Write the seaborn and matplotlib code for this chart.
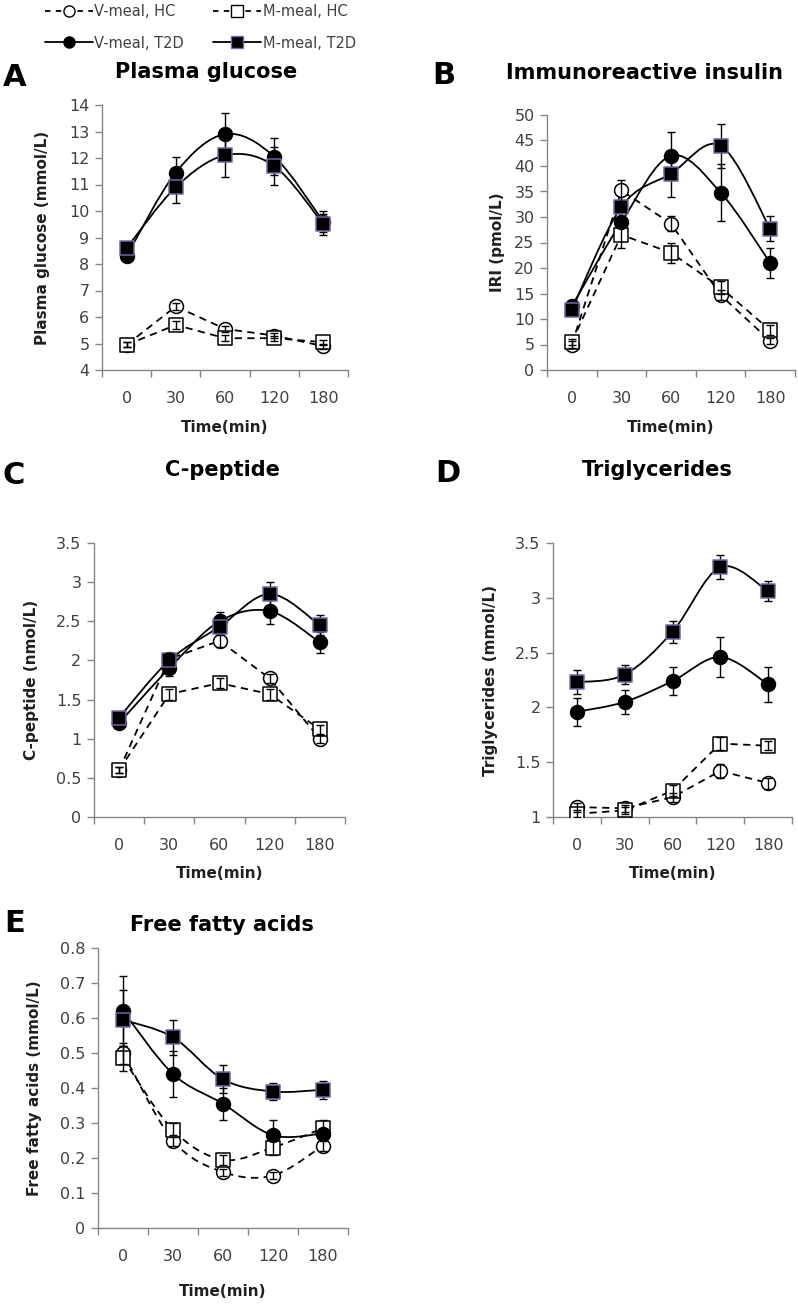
import numpy as np
import matplotlib
matplotlib.use("Agg")
import matplotlib.pyplot as plt
import seaborn as sns
from matplotlib.path import Path
from matplotlib.patches import PathPatch
from matplotlib.lines import Line2D

# ---------------- data ----------------
times = ["0", "30", "60", "120", "180"]
series_labels = ["V-meal, HC", "M-meal, HC", "V-meal, T2D", "M-meal, T2D"]

# A: plasma glucose (mmol/L)
glu_v_hc = [4.95, 6.4, 5.55, 5.3, 4.9]
glu_m_hc = [4.95, 5.7, 5.2, 5.2, 5.05]
glu_v_t2d = [8.3, 11.45, 12.9, 12.05, 9.6]
glu_m_t2d = [8.6, 10.9, 12.1, 11.7, 9.5]
glu_v_hc_err = [0.1, 0.12, 0.12, 0.1, 0.1]
glu_m_hc_err = [0.1, 0.15, 0.12, 0.1, 0.1]
glu_v_t2d_err = [0.2, 0.6, 0.8, 0.7, 0.4]
glu_m_t2d_err = [0.2, 0.6, 0.8, 0.7, 0.4]

# B: immunoreactive insulin (pmol/L)
iri_v_hc = [5.0, 35.2, 28.7, 14.7, 5.7]
iri_m_hc = [5.5, 26.5, 23.0, 16.2, 7.8]
iri_v_t2d = [12.5, 29.0, 42.0, 34.8, 21.0]
iri_m_t2d = [11.8, 32.0, 38.5, 44.0, 27.7]
iri_v_hc_err = [0.6, 2.0, 1.5, 1.0, 0.6]
iri_m_hc_err = [0.6, 2.5, 2.0, 1.2, 1.0]
iri_v_t2d_err = [1.2, 2.5, 4.7, 5.5, 3.0]
iri_m_t2d_err = [1.2, 3.0, 4.5, 4.3, 2.5]

# C: C-peptide (nmol/L)
cp_v_hc = [0.6, 2.02, 2.25, 1.77, 1.0]
cp_m_hc = [0.6, 1.57, 1.71, 1.57, 1.12]
cp_v_t2d = [1.2, 1.9, 2.5, 2.63, 2.23]
cp_m_t2d = [1.27, 2.0, 2.43, 2.85, 2.45]
cp_v_hc_err = [0.04, 0.08, 0.08, 0.06, 0.05]
cp_m_hc_err = [0.04, 0.07, 0.06, 0.07, 0.06]
cp_v_t2d_err = [0.05, 0.1, 0.12, 0.17, 0.13]
cp_m_t2d_err = [0.05, 0.1, 0.15, 0.15, 0.13]

# D: triglycerides (mmol/L)
tg_v_hc = [1.09, 1.08, 1.18, 1.42, 1.31]
tg_m_hc = [1.03, 1.06, 1.24, 1.67, 1.65]
tg_v_t2d = [1.96, 2.05, 2.24, 2.46, 2.21]
tg_m_t2d = [2.23, 2.30, 2.69, 3.28, 3.06]
tg_v_hc_err = [0.04, 0.03, 0.04, 0.06, 0.05]
tg_m_hc_err = [0.03, 0.03, 0.05, 0.06, 0.04]
tg_v_t2d_err = [0.13, 0.11, 0.13, 0.18, 0.16]
tg_m_t2d_err = [0.11, 0.09, 0.10, 0.11, 0.09]

# E: free fatty acids (mmol/L)
ffa_v_hc = [0.50, 0.25, 0.16, 0.15, 0.235]
ffa_m_hc = [0.485, 0.28, 0.195, 0.23, 0.285]
ffa_v_t2d = [0.62, 0.44, 0.355, 0.265, 0.27]
ffa_m_t2d = [0.595, 0.545, 0.425, 0.39, 0.395]
ffa_v_hc_err = [0.03, 0.015, 0.01, 0.01, 0.015]
ffa_m_hc_err = [0.035, 0.02, 0.015, 0.02, 0.025]
ffa_v_t2d_err = [0.1, 0.065, 0.045, 0.045, 0.03]
ffa_m_t2d_err = [0.085, 0.05, 0.04, 0.025, 0.025]

panels = [
    dict(letter="A", title="Plasma glucose", ylabel="Plasma glucose (mmol/L)",
         yticks=[4, 5, 6, 7, 8, 9, 10, 11, 12, 13, 14],
         series=[glu_v_hc, glu_m_hc, glu_v_t2d, glu_m_t2d],
         errs=[glu_v_hc_err, glu_m_hc_err, glu_v_t2d_err, glu_m_t2d_err],
         box=(102, 348, 105, 370), smooth_hc=False,
         letter_xy=(3, 77), title_xy=(206, 72), ylab_x=43, xt_off=28, xl_off=57),
    dict(letter="B", title="Immunoreactive insulin", ylabel="IRI (pmol/L)",
         yticks=[0, 5, 10, 15, 20, 25, 30, 35, 40, 45, 50],
         series=[iri_v_hc, iri_m_hc, iri_v_t2d, iri_m_t2d],
         errs=[iri_v_hc_err, iri_m_hc_err, iri_v_t2d_err, iri_m_t2d_err],
         box=(547, 795, 115, 370), smooth_hc=False,
         letter_xy=(432, 75), title_xy=(645, 73), ylab_x=497, xt_off=28, xl_off=57),
    dict(letter="C", title="C-peptide", ylabel="C-peptide (nmol/L)",
         yticks=[0, 0.5, 1, 1.5, 2, 2.5, 3, 3.5],
         series=[cp_v_hc, cp_m_hc, cp_v_t2d, cp_m_t2d],
         errs=[cp_v_hc_err, cp_m_hc_err, cp_v_t2d_err, cp_m_t2d_err],
         box=(94, 345, 543, 817), smooth_hc=False,
         letter_xy=(3, 475), title_xy=(222, 470), ylab_x=32, xt_off=28, xl_off=56),
    dict(letter="D", title="Triglycerides", ylabel="Triglycerides (mmol/L)",
         yticks=[1, 1.5, 2, 2.5, 3, 3.5],
         series=[tg_v_hc, tg_m_hc, tg_v_t2d, tg_m_t2d],
         errs=[tg_v_hc_err, tg_m_hc_err, tg_v_t2d_err, tg_m_t2d_err],
         box=(553, 792, 543, 817), smooth_hc=False,
         letter_xy=(435, 473), title_xy=(657, 470), ylab_x=490, xt_off=28, xl_off=56),
    dict(letter="E", title="Free fatty acids", ylabel="Free fatty acids (mmol/L)",
         yticks=[0, 0.1, 0.2, 0.3, 0.4, 0.5, 0.6, 0.7, 0.8],
         series=[ffa_v_hc, ffa_m_hc, ffa_v_t2d, ffa_m_t2d],
         errs=[ffa_v_hc_err, ffa_m_hc_err, ffa_v_t2d_err, ffa_m_t2d_err],
         box=(98, 348, 948, 1228), smooth_hc=True,
         letter_xy=(4, 923), title_xy=(222, 925), ylab_x=35, xt_off=29, xl_off=64),
]

# ---------------- style ----------------
sns.set_style("white")
plt.rcParams["font.family"] = ["DejaVu Sans"]

W, H = 798, 1306
fig = plt.figure(figsize=(W / 100, H / 100), dpi=100)

AXIS_GRAY = "#868686"
TEXT_GRAY = "#404040"
SQ_EDGE = "#7A63A8"

styles = [
    dict(marker="o", face="white", edge="black", ls=(0, (4, 3)), t2d=False),
    dict(marker="s", face="white", edge="black", ls=(0, (4, 3)), t2d=False),
    dict(marker="o", face="black", edge="black", ls="-", t2d=True),
    dict(marker="s", face="black", edge=SQ_EDGE, ls="-", t2d=True),
]


def smooth_path(x, y):
    pts = np.column_stack([x, y]).astype(float)
    n = len(pts)
    verts = [pts[0]]
    codes = [Path.MOVETO]
    for i in range(n - 1):
        p0 = pts[i - 1] if i > 0 else pts[i]
        p1 = pts[i]
        p2 = pts[i + 1]
        p3 = pts[i + 2] if i + 2 < n else pts[i + 1]
        c1 = p1 + (p2 - p0) / 6.0
        c2 = p2 - (p3 - p1) / 6.0
        verts += [c1, c2, p2]
        codes += [Path.CURVE4] * 3
    return Path(verts, codes)


xpos = np.arange(len(times))

for p in panels:
    l, r, t, b = p["box"]
    ax = fig.add_axes([l / W, 1 - b / H, (r - l) / W, (b - t) / H])
    ax.set_xlim(-0.5, len(times) - 0.5)
    ax.set_ylim(p["yticks"][0], p["yticks"][-1])
    ax.set_facecolor("white")
    for s in ["top", "right"]:
        ax.spines[s].set_visible(False)
    for s in ["left", "bottom"]:
        ax.spines[s].set_color(AXIS_GRAY)
        ax.spines[s].set_linewidth(1.0)

    for k, (vals, errs, st) in enumerate(zip(p["series"], p["errs"], styles)):
        vals = np.asarray(vals, float)
        ax.errorbar(xpos, vals, yerr=errs, fmt="none", ecolor="black",
                    elinewidth=1.0, capsize=3, capthick=1.0,
                    zorder=5 if not st["t2d"] else 3)
        if st["t2d"] or p["smooth_hc"]:
            patch = PathPatch(smooth_path(xpos, vals), fill=False, edgecolor="black",
                              linewidth=1.3, linestyle=st["ls"], zorder=2,
                              transform=ax.transData)
            ax.add_patch(patch)
        else:
            sns.lineplot(x=xpos, y=vals, ax=ax, color="black", linewidth=1.3,
                         linestyle="--", zorder=2, legend=False)
            ax.lines[-1].set_dashes((4, 3))
        sns.scatterplot(x=xpos, y=vals, ax=ax, marker=st["marker"], s=100,
                        color=st["face"], edgecolor=st["edge"], linewidth=1.1,
                        zorder=4, legend=False)

    ax.set_yticks(p["yticks"])
    ax.set_yticklabels([f"{v:g}" for v in p["yticks"]])
    ax.tick_params(axis="y", direction="out", length=5, width=1, color=AXIS_GRAY,
                   labelsize=11.5, labelcolor=TEXT_GRAY, pad=4, left=True)
    ax.set_xticks(np.arange(len(times) + 1) - 0.5)
    ax.set_xticklabels([""] * (len(times) + 1))
    ax.set_xticks(xpos, minor=True)
    ax.set_xticklabels(times, minor=True)
    ax.tick_params(axis="x", which="major", direction="out", length=5, width=1,
                   color=AXIS_GRAY, bottom=True)
    ax.tick_params(axis="x", which="minor", length=0, labelsize=11.5,
                   labelcolor=TEXT_GRAY, pad=15)
    ax.set_xlabel("")
    ax.set_ylabel("")

    fig.text(((l + r) / 2) / W, 1 - (b + p["xl_off"]) / H, "Time(min)",
             ha="center", va="center", fontsize=11, fontweight="bold", color="#202020")
    fig.text(p["ylab_x"] / W, 1 - ((t + b) / 2) / H, p["ylabel"], rotation=90,
             ha="center", va="center", fontsize=11, fontweight="bold", color="#202020")
    fig.text(p["title_xy"][0] / W, 1 - p["title_xy"][1] / H, p["title"],
             ha="center", va="center", fontsize=15, fontweight="bold", color="black")
    fig.text(p["letter_xy"][0] / W, 1 - p["letter_xy"][1] / H, p["letter"],
             ha="left", va="center", fontsize=22, fontweight="bold", color="black")

# ---------------- legend ----------------
handles = []
for st in styles:
    handles.append(Line2D([0], [0], color="black", linewidth=1.3,
                          linestyle="-" if st["t2d"] else (0, (3, 3)),
                          marker=st["marker"], markersize=8,
                          markerfacecolor=st["face"], markeredgecolor=st["edge"]))
order = [0, 2, 1, 3]
fig.legend([handles[i] for i in order], [series_labels[i] for i in order],
           ncol=2, loc="upper left", bbox_to_anchor=(36 / W, 1 + 5 / H),
           frameon=False, fontsize=10.5, labelcolor=TEXT_GRAY,
           handlelength=3.3, handletextpad=0.1, columnspacing=2.0,
           labelspacing=1.15, borderpad=0.1)

fig.savefig("out.png", dpi=100, facecolor="white")
